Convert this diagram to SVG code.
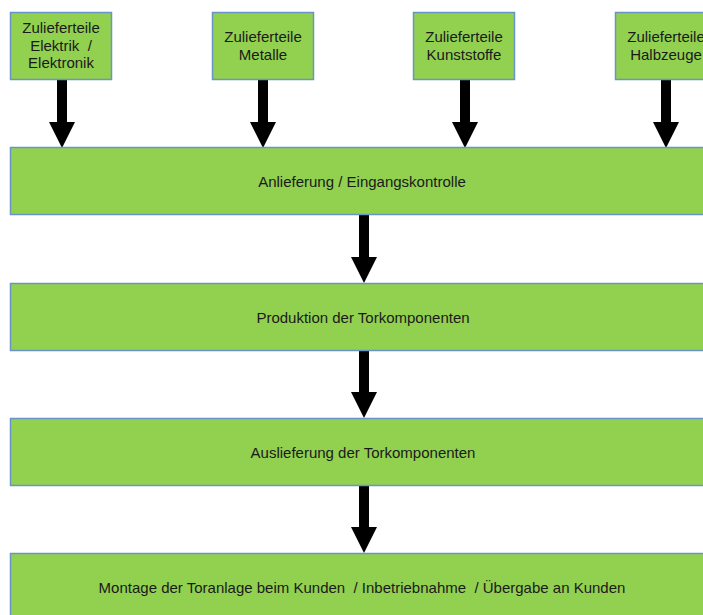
<svg xmlns="http://www.w3.org/2000/svg" width="703" height="615" viewBox="0 0 703 615">
<defs>
<style>
.box{fill:#92D050;stroke:#6A93C8;stroke-width:1.5}
.t{font-family:"Liberation Sans",Arial,sans-serif;font-size:15px;fill:#1a1a1a;text-anchor:middle;white-space:pre}
.arr{fill:#000}
</style>
<polygon id="arrow" class="arr" points="-5,0 5,0 5,42 13,42 0,68 -13,42 -5,42"/>
</defs>
<rect width="703" height="615" fill="#fff"/>
<g id="connectors">
<use href="#arrow" x="62" y="80"/>
<use href="#arrow" x="263" y="80"/>
<use href="#arrow" x="465" y="80"/>
<use href="#arrow" x="666" y="80"/>
<use href="#arrow" x="364" y="215"/>
<use href="#arrow" x="364" y="350"/>
<use href="#arrow" x="364" y="485"/>
</g>
<g id="n1"><rect class="box" x="10.5" y="12.5" width="101" height="67"/><text class="t" x="61" y="33">Zulieferteile</text><text class="t" x="61" y="50.5">Elektrik  /</text><text class="t" x="61" y="68">Elektronik</text></g>
<g id="n2"><rect class="box" x="212.5" y="12.5" width="101" height="67"/><text class="t" x="263" y="42">Zulieferteile</text><text class="t" x="263" y="59.5">Metalle</text></g>
<g id="n3"><rect class="box" x="413.5" y="12.5" width="101" height="67"/><text class="t" x="464" y="42">Zulieferteile</text><text class="t" x="464" y="59.5">Kunststoffe</text></g>
<g id="n4"><rect class="box" x="615.5" y="12.5" width="101" height="67"/><text class="t" x="666" y="42">Zulieferteile</text><text class="t" x="666" y="59.5">Halbzeuge</text></g>
<g id="n5"><rect class="box" x="10.5" y="147.5" width="700" height="67"/><text class="t" x="362" y="187">Anlieferung / Eingangskontrolle</text></g>
<g id="n6"><rect class="box" x="10.5" y="283.5" width="700" height="67"/><text class="t" x="363" y="323">Produktion der Torkomponenten</text></g>
<g id="n7"><rect class="box" x="10.5" y="418.5" width="700" height="67"/><text class="t" x="363" y="458">Auslieferung der Torkomponenten</text></g>
<g id="n8"><rect class="box" x="10.5" y="553.5" width="700" height="67"/><text class="t" x="362" y="593">Montage der Toranlage beim Kunden  / Inbetriebnahme  / Übergabe an Kunden</text></g>
</svg>
